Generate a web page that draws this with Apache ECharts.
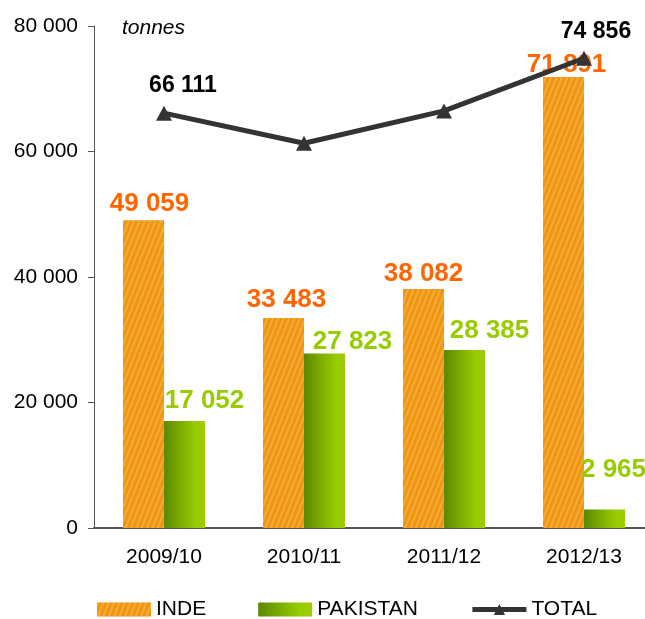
<!DOCTYPE html>
<html>
<head>
<meta charset="utf-8">
<title>INDE / PAKISTAN</title>
<script src="https://cdn.jsdelivr.net/npm/echarts@6/dist/echarts.min.js"></script>
<style>
    html,body{margin:0;padding:0;background:#fff;overflow:hidden;}
    #chart{width:660px;height:619px;}
</style>
</head>
<body>
<div id="chart"></div>
<script>
var campagnes = ['2009/10', '2010/11', '2011/12', '2012/13'];
var inde = [49059, 33483, 38082, 71891];
var pakistan = [17052, 27823, 28385, 2965];
var total = [66111, 61306, 66467, 74856];
var yTicks = [0, 20000, 40000, 60000, 80000];

// décalage des étiquettes (comme sur le graphique d'origine)
var indeLabelOffset = [[6, 2], [3, 0], [0, 3], [3, 6]];
var pakLabelOffset = [[20, -2], [28, 6], [25, -1], [9, -22]];
var totalLabelOffset = [[19, -3], null, null, [12, -3]];

var FONT = '"Liberation Sans", Arial, sans-serif';

function formatNombre(v) {
    return String(v).replace(/\B(?=(\d{3})+(?!\d))/g, ' ');
}

function barData(values, offsets) {
    var arr = [];
    for (var i = 0; i < values.length; i++) {
        arr.push({value: values[i], label: {offset: offsets[i]}});
    }
    return arr;
}

function lineData(values, offsets) {
    var arr = [];
    for (var i = 0; i < values.length; i++) {
        if (offsets[i]) {
            arr.push({value: values[i], label: {show: true, offset: offsets[i]}});
        } else {
            arr.push({value: values[i]});
        }
    }
    return arr;
}

var option = {
    animation: false,
    textStyle: {fontFamily: FONT},
    title: {
        text: 'tonnes',
        left: 117,
        top: 13,
        textStyle: {fontSize: 21, fontStyle: 'italic', fontWeight: 'normal', color: '#000', fontFamily: FONT}
    },
    legend: {
        left: 92,
        top: 594,
        itemWidth: 54,
        itemHeight: 14,
        itemGap: 52,
        textStyle: {fontSize: 21, color: '#000', fontFamily: FONT},
        data: [
            {name: 'INDE', icon: 'rect'},
            {name: 'PAKISTAN', icon: 'rect'},
            {name: 'TOTAL', lineStyle: {width: 5, color: '#333'}}
        ]
    },
    grid: {left: 94, top: 26, width: 560, height: 502},
    xAxis: {
        type: 'category',
        data: campagnes,
        axisLine: {lineStyle: {color: '#555', width: 2}},
        axisTick: {inside: true, length: 6, lineStyle: {color: '#555'}},
        axisLabel: {fontSize: 21, color: '#000', margin: 19, fontFamily: FONT}
    },
    yAxis: {
        type: 'value',
        min: yTicks[0],
        max: yTicks[yTicks.length - 1],
        interval: yTicks[1] - yTicks[0],
        splitLine: {show: false},
        axisLine: {show: true, lineStyle: {color: '#555'}},
        axisTick: {show: true, length: 6, lineStyle: {color: '#555'}},
        axisLabel: {fontSize: 21, color: '#000', margin: 16, fontFamily: FONT, formatter: formatNombre}
    },
    series: [
        {
            name: 'INDE',
            type: 'bar',
            barWidth: 41,
            barGap: '0%',
            data: barData(inde, indeLabelOffset),
            itemStyle: {
                color: '#EE9512',
                decal: {
                    symbol: 'rect',
                    symbolSize: 1,
                    color: 'rgba(255,190,85,0.55)',
                    dashArrayX: [1, 0],
                    dashArrayY: [2, 3],
                    rotation: -Math.PI * 0.38
                }
            },
            label: {
                show: true,
                position: 'top',
                distance: 5,
                fontSize: 26,
                fontWeight: 'bold',
                color: '#FF6600',
                fontFamily: FONT,
                formatter: function (p) { return formatNombre(p.value); }
            }
        },
        {
            name: 'PAKISTAN',
            type: 'bar',
            barWidth: 41,
            barGap: '0%',
            data: barData(pakistan, pakLabelOffset),
            itemStyle: {
                color: new echarts.graphic.LinearGradient(0, 0, 1, 0, [
                    {offset: 0, color: '#5B8800'},
                    {offset: 0.75, color: '#97CA00'},
                    {offset: 1, color: '#9CCD00'}
                ])
            },
            label: {
                show: true,
                position: 'top',
                distance: 5,
                fontSize: 26,
                fontWeight: 'bold',
                color: '#99CC00',
                fontFamily: FONT,
                formatter: function (p) { return formatNombre(p.value); }
            }
        },
        {
            name: 'TOTAL',
            type: 'line',
            data: lineData(total, totalLabelOffset),
            symbol: 'triangle',
            symbolSize: [16, 15],
            lineStyle: {color: '#333', width: 5},
            itemStyle: {color: '#333'},
            label: {
                show: false,
                position: 'top',
                distance: 5,
                fontSize: 23,
                fontWeight: 'bold',
                color: '#000',
                fontFamily: FONT,
                formatter: function (p) { return formatNombre(p.value); }
            },
            z: 5
        }
    ]
};

var myChart = echarts.init(document.getElementById('chart'));
myChart.setOption(option);
</script>
</body>
</html>
